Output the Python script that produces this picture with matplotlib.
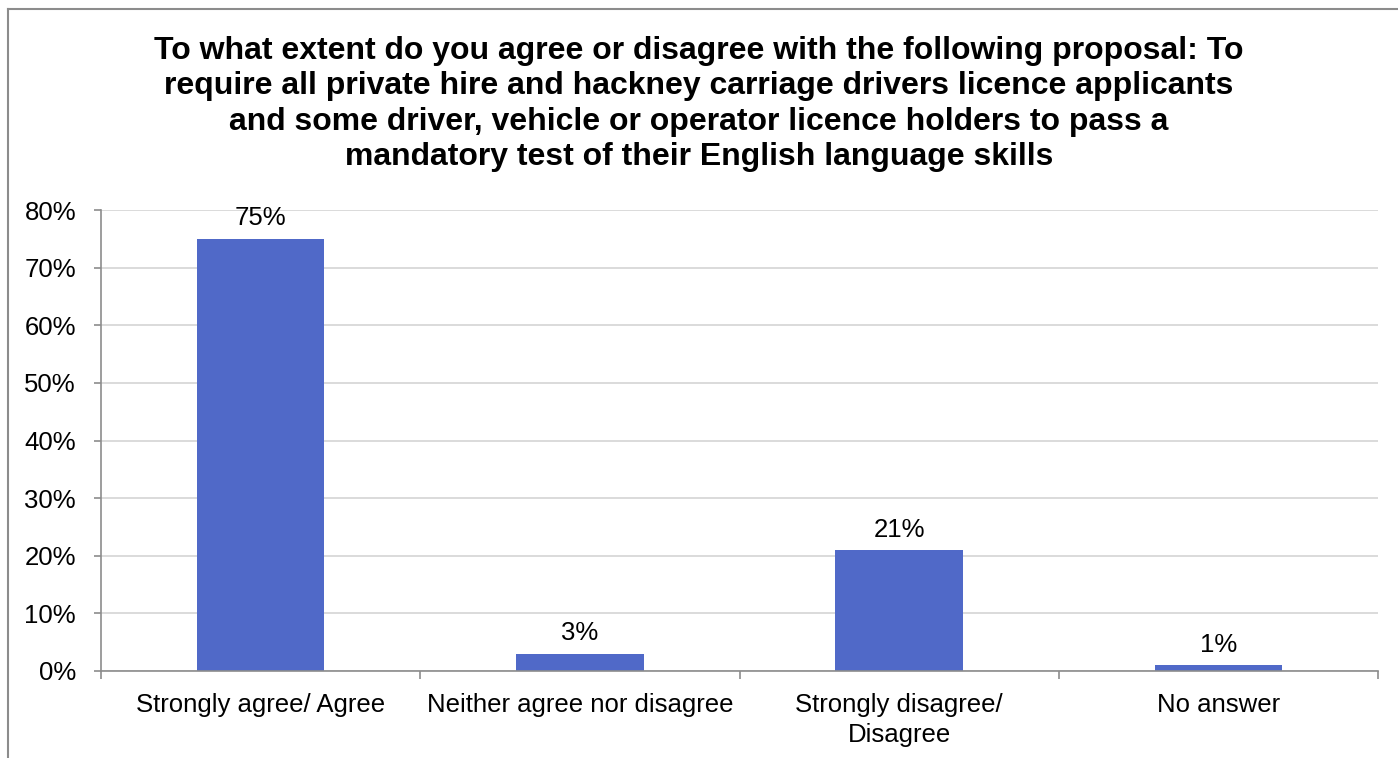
import matplotlib
matplotlib.use("Agg")
import matplotlib.pyplot as plt
from matplotlib.lines import Line2D

categories = ["Strongly agree/ Agree", "Neither agree nor disagree",
              "Strongly disagree/\nDisagree", "No answer"]
values = [75, 3, 21, 1]
value_labels = ["75%", "3%", "21%", "1%"]
y_ticks = [0, 10, 20, 30, 40, 50, 60, 70, 80]
y_tick_labels = ["0%", "10%", "20%", "30%", "40%", "50%", "60%", "70%", "80%"]
title = ("To what extent do you agree or disagree with the following proposal: To\n"
         "require all private hire and hackney carriage drivers licence applicants\n"
         "and some driver, vehicle or operator licence holders to pass a\n"
         "mandatory test of their English language skills")

plt.rcParams["font.family"] = ["Liberation Sans", "DejaVu Sans"]

W, H = 1398, 758
fig = plt.figure(figsize=(W / 100, H / 100), dpi=100)
ax = fig.add_axes([101 / W, 1 - 671 / H, (1378 - 101) / W, (671 - 210) / H])

bar_color = "#5069C8"
axis_color = "#8C8C8C"
grid_color = "#D4D4D4"
label_size = 18.5

x = list(range(len(categories)))
ax.bar(x, values, width=0.4, color=bar_color, zorder=3)

for xi, v, lab in zip(x, values, value_labels):
    ax.annotate(lab, (xi, v), xytext=(0, 6), textcoords="offset points",
                ha="center", va="bottom", fontsize=label_size, color="black")

ax.set_xlim(-0.5, len(categories) - 0.5)
ax.set_ylim(0, 80)
ax.set_yticks(y_ticks)
ax.set_yticklabels(y_tick_labels)
ax.yaxis.grid(True, color=grid_color, linewidth=1.2, zorder=0)

# boundary ticks without labels, category labels on minor ticks
ax.set_xticks([i - 0.5 for i in range(len(categories) + 1)])
ax.set_xticklabels([])
ax.set_xticks(x, minor=True)
ax.set_xticklabels(categories, minor=True, linespacing=1.3)
ax.tick_params(axis="x", which="major", direction="out", length=6,
               width=1.2, color=axis_color)
ax.tick_params(axis="x", which="minor", length=0, pad=16, labelsize=label_size)
ax.tick_params(axis="y", direction="out", length=5, width=1.2,
               color=axis_color, pad=13, labelsize=label_size)

for side in ("top", "right"):
    ax.spines[side].set_visible(False)
for side in ("left", "bottom"):
    ax.spines[side].set_color(axis_color)
    ax.spines[side].set_linewidth(1.2)
    ax.spines[side].set_zorder(4)

fig.text(0.5, 1 - 104 / H, title, ha="center", va="center",
         fontsize=23, fontweight="bold", linespacing=1.23)

# chart frame
fig.add_artist(Line2D([8 / W, 8 / W], [0, 1 - 9 / H], transform=fig.transFigure,
                      color="#8C8C8C", linewidth=1.5))
fig.add_artist(Line2D([8 / W, 1], [1 - 9 / H, 1 - 9 / H], transform=fig.transFigure,
                      color="#8C8C8C", linewidth=1.5))

fig.savefig("out.png", dpi=100)
